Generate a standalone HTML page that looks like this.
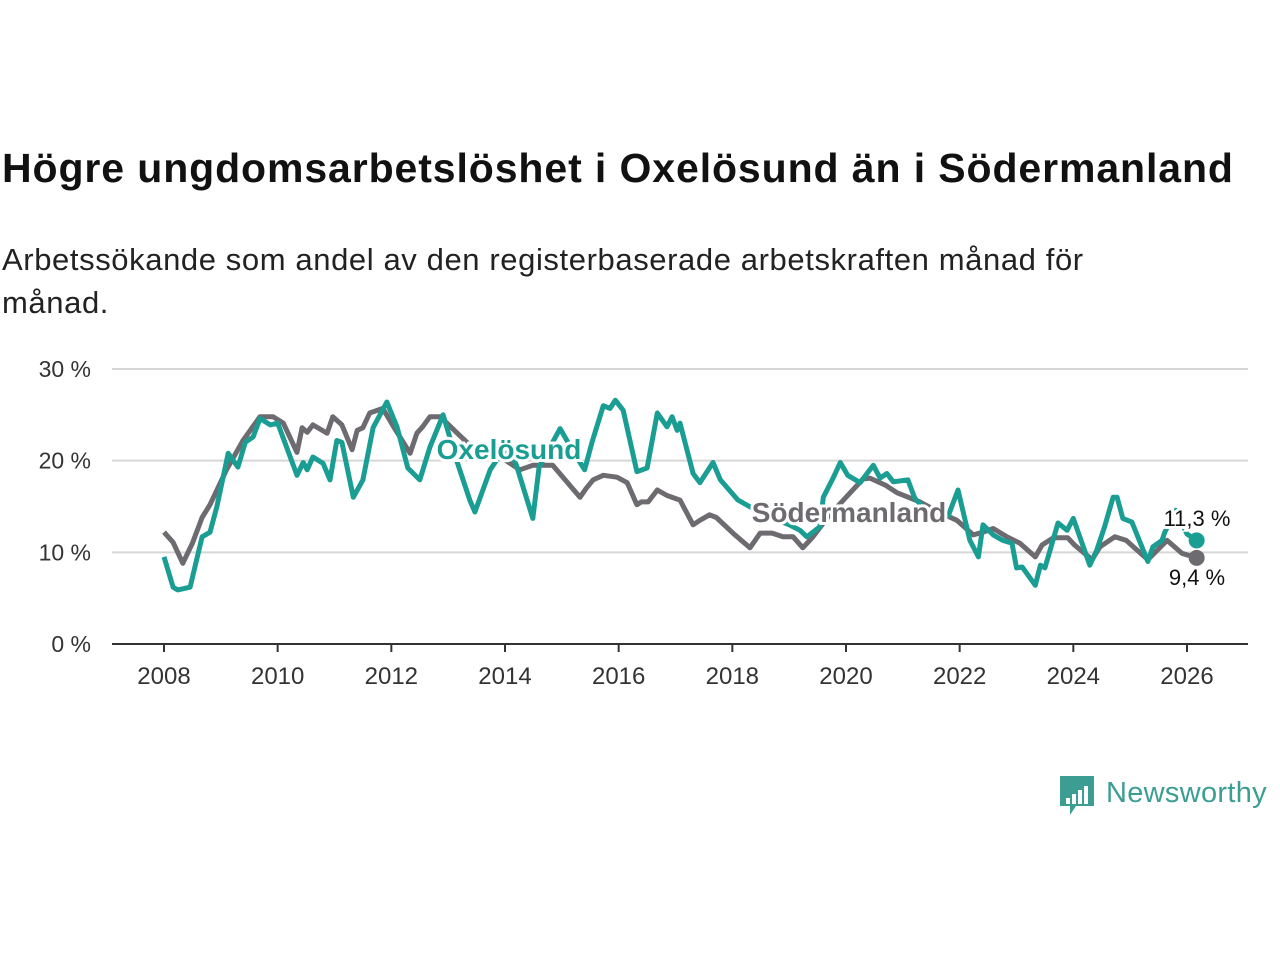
<!DOCTYPE html>
<html><head><meta charset="utf-8"><style>
body{margin:0;width:1280px;height:960px;background:#fff;font-family:"Liberation Sans","DejaVu Sans",sans-serif;overflow:hidden;position:relative}
#title{position:absolute;left:2px;top:145px;font-size:41px;font-weight:bold;color:#111;white-space:nowrap;letter-spacing:0.9px}
#sub{position:absolute;left:2px;top:238px;font-size:31px;line-height:43px;color:#222;width:1180px;letter-spacing:0.6px}
svg{position:absolute;left:0;top:0}
</style></head><body>
<div id="title">Högre ungdomsarbetslöshet i Oxelösund än i Södermanland</div>
<div id="sub">Arbetssökande som andel av den registerbaserade arbetskraften månad för månad.</div>
<svg id="chart" width="1280" height="960"></svg>
<script>
const yTicks=[0,10,20,30];
const xTicks=[2008,2010,2012,2014,2016,2018,2020,2022,2024,2026];
const oxDates=[2008.0,2008.16,2008.24,2008.46,2008.67,2008.81,2008.93,2009.13,2009.3,2009.43,2009.57,2009.69,2009.87,2010.0,2010.34,2010.45,2010.52,2010.62,2010.8,2010.92,2011.04,2011.13,2011.33,2011.5,2011.68,2011.92,2012.1,2012.29,2012.5,2012.68,2012.91,2013.15,2013.38,2013.47,2013.74,2013.9,2014.1,2014.2,2014.49,2014.6,2014.97,2015.2,2015.4,2015.53,2015.73,2015.85,2015.94,2016.08,2016.32,2016.5,2016.68,2016.85,2016.94,2017.03,2017.08,2017.31,2017.43,2017.66,2017.79,2018.1,2018.3,2018.6,2019.0,2019.19,2019.31,2019.54,2019.6,2019.78,2019.9,2020.03,2020.25,2020.37,2020.48,2020.6,2020.72,2020.83,2021.09,2021.21,2021.5,2021.8,2021.97,2022.18,2022.33,2022.41,2022.59,2022.76,2022.92,2023.0,2023.1,2023.33,2023.42,2023.5,2023.73,2023.89,2024.0,2024.29,2024.41,2024.55,2024.7,2024.77,2024.87,2025.03,2025.31,2025.4,2025.56,2025.61,2025.8,2026.0,2026.17];
const oxVals=[9.5,6.2,5.9,6.2,11.7,12.2,15,20.8,19.3,22,22.6,24.6,23.9,24.1,18.4,19.8,19,20.4,19.7,17.9,22.2,22,16,17.9,23.6,26.4,23.7,19.2,17.9,21.5,25,20,15.7,14.4,19,20.5,21,19.5,13.7,19.3,23.5,21,19,22,26,25.7,26.6,25.5,18.8,19.2,25.2,23.7,24.8,23.3,24.1,18.6,17.6,19.8,17.9,15.7,15,14,13,12.4,11.7,12.8,16,18.2,19.8,18.4,17.6,18.6,19.5,18.1,18.6,17.7,17.9,15.9,14,14,16.8,11.3,9.5,13,11.9,11.3,11,8.3,8.4,6.4,8.6,8.3,13.2,12.4,13.7,8.6,10.2,12.8,16,16,13.7,13.3,9,10.6,11.3,12.2,14.6,12,11.3];
const soDates=[2008.0,2008.16,2008.33,2008.5,2008.67,2008.81,2009.1,2009.39,2009.69,2009.92,2010.1,2010.34,2010.43,2010.52,2010.62,2010.87,2010.97,2011.13,2011.31,2011.4,2011.5,2011.62,2011.85,2012.02,2012.33,2012.45,2012.55,2012.68,2012.86,2013.16,2013.5,2013.9,2014.26,2014.49,2014.84,2015.32,2015.43,2015.55,2015.73,2015.97,2016.15,2016.32,2016.4,2016.52,2016.68,2016.85,2017.08,2017.31,2017.43,2017.6,2017.72,2018.01,2018.31,2018.49,2018.7,2018.89,2019.07,2019.24,2019.42,2019.7,2020.0,2020.3,2020.42,2020.7,2020.9,2021.3,2021.6,2021.95,2022.24,2022.41,2022.59,2022.83,2023.06,2023.33,2023.45,2023.65,2023.9,2024.02,2024.33,2024.47,2024.73,2024.93,2025.31,2025.65,2025.91,2026.17];
const soVals=[12.2,11.1,8.8,11,13.8,15.2,19,22.2,24.8,24.8,24.1,20.9,23.6,23.1,23.9,23,24.8,23.9,21.2,23.3,23.6,25.2,25.7,23.9,20.8,23,23.7,24.8,24.8,23,21,20.5,19,19.5,19.5,16,17,17.9,18.4,18.2,17.6,15.2,15.5,15.5,16.8,16.2,15.7,13,13.5,14.1,13.8,12.1,10.5,12.1,12.1,11.7,11.7,10.5,11.7,14,16,18,18.1,17.3,16.5,15.5,14.5,13.5,11.9,12.2,12.6,11.7,11,9.5,10.8,11.6,11.6,10.8,9.2,10.6,11.7,11.3,9.2,11.3,9.9,9.4];
const NS='http://www.w3.org/2000/svg';
const svg=document.getElementById('chart');
const X=v=>164+(v-2008)*(1187-164)/18;
const Y=v=>644-v*(644-369)/30;
function el(t,a,p){const e=document.createElementNS(NS,t);for(const k in a)e.setAttribute(k,a[k]);(p||svg).appendChild(e);return e;}
yTicks.forEach(t=>{
 if(t>0){const g=el('line',{x1:112,x2:1248,y1:Y(t),y2:Y(t),stroke:'#d6d6d6','stroke-width':2});
 
 }
 const tx=el('text',{x:91,y:Y(t)+8,'text-anchor':'end','font-size':23,fill:'#333'});tx.textContent=t+' %';
 
 
});
const ax=el('line',{x1:112,x2:1248,y1:644,y2:644,stroke:'#333','stroke-width':2});


xTicks.forEach(t=>{
 el('line',{x1:X(t),x2:X(t),y1:644,y2:652,stroke:'#333','stroke-width':2});
 const tx=el('text',{x:X(t),y:684,'text-anchor':'middle','font-size':24,fill:'#333'});tx.textContent=t;
 
 
});
function line(d,v,c,n){const p=el('path',{d:d.map((x,i)=>(i?'L':'M')+X(x).toFixed(1)+','+Y(v[i]).toFixed(1)).join(''),fill:'none',stroke:c,'stroke-width':5,'stroke-linejoin':'round'});
 
 }
line(soDates,soVals,'#6d6a70','sodermanland-line');
line(oxDates,oxVals,'#1a9e93','oxelosund-line');
const d1=el('circle',{cx:X(2026.17),cy:Y(soVals[soVals.length-1]),r:8,fill:'#6d6a70'});


const d2=el('circle',{cx:X(2026.17),cy:Y(oxVals[oxVals.length-1]),r:8,fill:'#1a9e93'});


function lab(x,y,s,c,n,w,sz){const t=el('text',{x:x,y:y,'text-anchor':'middle','font-size':sz,'font-weight':w,fill:c,stroke:'#fff','stroke-width':6,'paint-order':'stroke'});t.textContent=s;
 
 }
lab(509,459,'Oxelösund','#1a9e93','oxelosund-label','bold',28);
lab(849,522,'Södermanland','#6d6a70','sodermanland-label','bold',28);
lab(1197,526,'11,3 %','#111','oxelosund-end-value','normal',22);
lab(1197,585,'9,4 %','#111','sodermanland-end-value','normal',22);
// logo
const lg=el('g',{});


el('path',{d:'M1060 776 h34 v30 h-18 l-6 9 v-9 h-10 z',fill:'#3c9e93'},lg);
[[1066,798,6],[1072,794,10],[1078,790,14],[1084,786,18]].forEach(b=>el('rect',{x:b[0],y:b[1],width:4,height:b[2],fill:'#fff'},lg));
const lt=el('text',{x:1106,y:802,'font-size':29,fill:'#3c9e93','letter-spacing':0.3},lg);lt.textContent='Newsworthy';
</script>
</body></html>
